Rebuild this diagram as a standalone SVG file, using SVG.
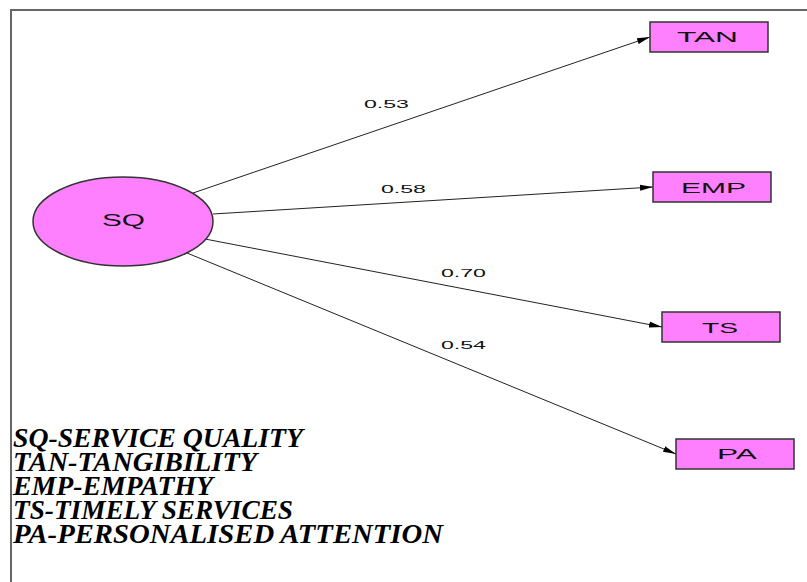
<svg xmlns="http://www.w3.org/2000/svg" width="807" height="582" viewBox="0 0 807 582">
<style>
.node{fill:#ff80ff;stroke:#333;stroke-width:1.5}
.lbl{font-family:"Liberation Sans",Arial,sans-serif;fill:#111}
.edge{stroke:#222;stroke-width:1;fill:none;marker-end:url(#arr)}
.leg{font-family:"Liberation Serif","Times New Roman",serif;font-weight:bold;font-style:italic;font-size:28px;fill:#000}
</style>
<defs>
<marker id="arr" markerUnits="userSpaceOnUse" markerWidth="14" markerHeight="8" refX="13" refY="4" orient="auto">
<path d="M0,1 L13,4 L0,7 Z" fill="#000"/>
</marker>
</defs>
<rect width="807" height="582" fill="#fff"/>
<path d="M11,582 V10 H807" fill="none" stroke="#666" stroke-width="2"/>
<g id="connectors">
<line class="edge" x1="193" y1="193" x2="650" y2="37"/>
<line class="edge" x1="213" y1="214" x2="653" y2="187"/>
<line class="edge" x1="205" y1="239" x2="662" y2="327"/>
<line class="edge" x1="187" y1="253" x2="676" y2="454"/>
<text class="lbl" x="364" y="108" font-size="11" textLength="45" lengthAdjust="spacingAndGlyphs">0.53</text>
<text class="lbl" x="381" y="193" font-size="11" textLength="45" lengthAdjust="spacingAndGlyphs">0.58</text>
<text class="lbl" x="441" y="277" font-size="11" textLength="45" lengthAdjust="spacingAndGlyphs">0.70</text>
<text class="lbl" x="441" y="349" font-size="11" textLength="45" lengthAdjust="spacingAndGlyphs">0.54</text>
</g>
<g id="SQ">
<ellipse class="node" cx="123" cy="221.5" rx="90" ry="44.5"/>
<text class="lbl" x="102" y="226" font-size="16" textLength="43" lengthAdjust="spacingAndGlyphs">SQ</text>
</g>
<g id="TAN">
<rect class="node" x="650" y="22" width="118" height="30"/>
<text class="lbl" x="677" y="42" font-size="15" textLength="61" lengthAdjust="spacingAndGlyphs">TAN</text>
</g>
<g id="EMP">
<rect class="node" x="653" y="172" width="118" height="30"/>
<text class="lbl" x="681" y="193" font-size="15" textLength="65" lengthAdjust="spacingAndGlyphs">EMP</text>
</g>
<g id="TS">
<rect class="node" x="662" y="312" width="118" height="30"/>
<text class="lbl" x="702" y="333" font-size="15" textLength="36" lengthAdjust="spacingAndGlyphs">TS</text>
</g>
<g id="PA">
<rect class="node" x="676" y="439" width="118" height="30"/>
<text class="lbl" x="717" y="459" font-size="15" textLength="40" lengthAdjust="spacingAndGlyphs">PA</text>
</g>
<g id="legend">
<text class="leg" x="13" y="447" textLength="290" lengthAdjust="spacingAndGlyphs">SQ-SERVICE QUALITY</text>
<text class="leg" x="13" y="471" textLength="244" lengthAdjust="spacingAndGlyphs">TAN-TANGIBILITY</text>
<text class="leg" x="13" y="495" textLength="200" lengthAdjust="spacingAndGlyphs">EMP-EMPATHY</text>
<text class="leg" x="13" y="519" textLength="280" lengthAdjust="spacingAndGlyphs">TS-TIMELY SERVICES</text>
<text class="leg" x="13" y="543" textLength="430" lengthAdjust="spacingAndGlyphs">PA-PERSONALISED ATTENTION</text>
</g>
</svg>
